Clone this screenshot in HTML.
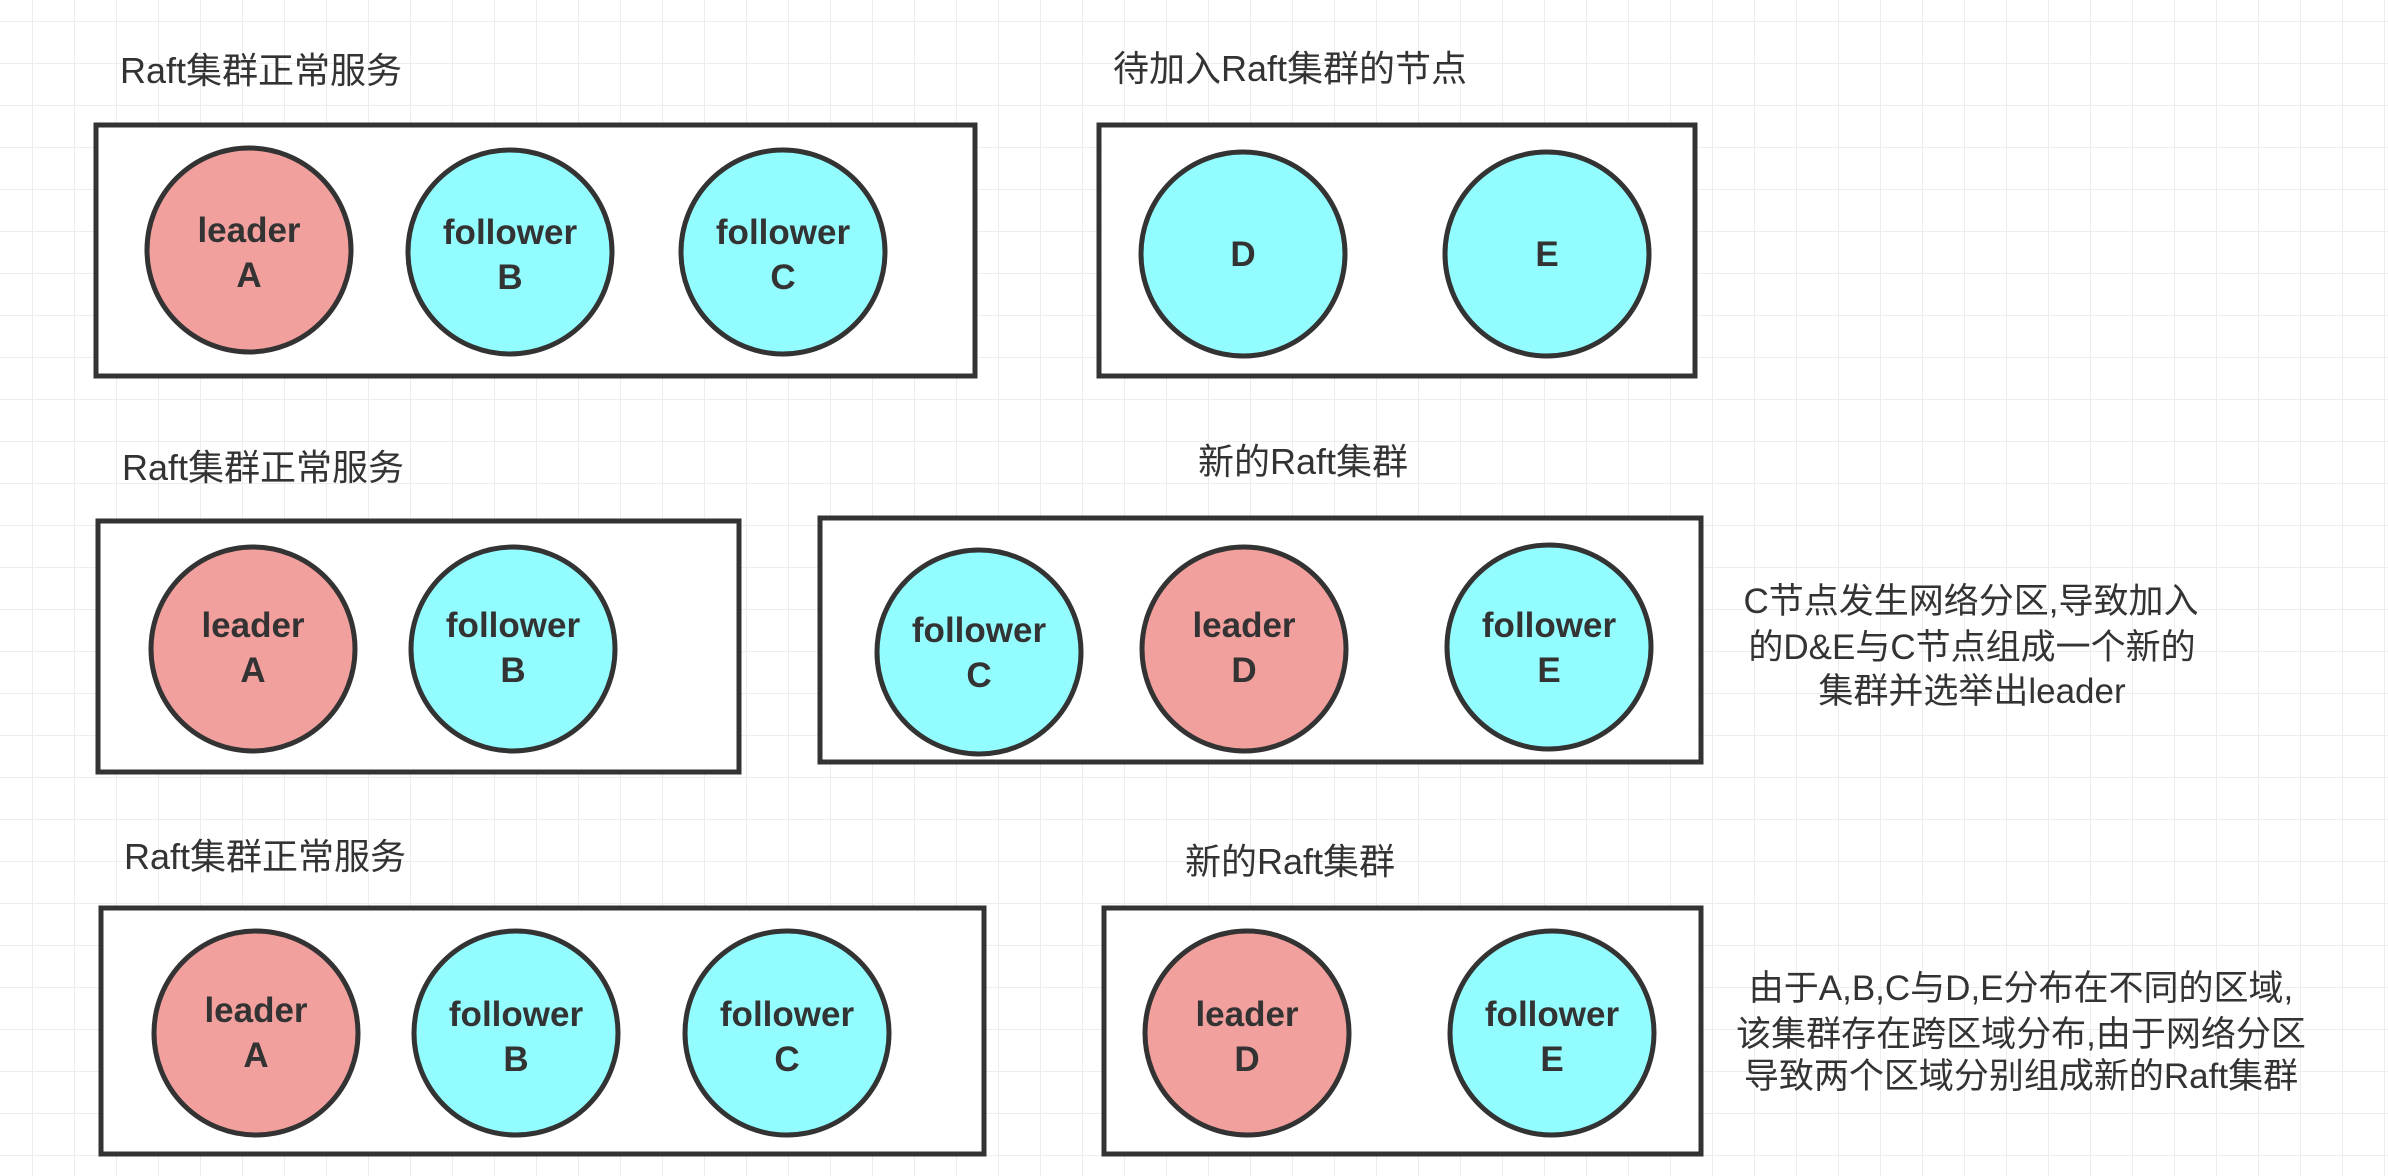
<!DOCTYPE html>
<html><head><meta charset="utf-8"><style>
html,body{margin:0;padding:0;background:#fff}
svg{display:block}
.t{font-family:"Liberation Sans","Noto Sans CJK SC",sans-serif;fill:#333}
.n{font-family:"Liberation Sans",sans-serif;font-weight:bold;font-size:35px;fill:#333;text-anchor:middle}
</style></head><body>
<svg width="2388" height="1176" viewBox="0 0 2388 1176" xmlns="http://www.w3.org/2000/svg">
<defs>
<pattern id="g" x="32" y="21" width="42" height="42" patternUnits="userSpaceOnUse">
<path d="M0 0H42M0 0V42" stroke="#ededed" stroke-width="2" fill="none"/>
</pattern>
</defs>
<rect width="2388" height="1176" fill="url(#g)"/>
<g fill="#fff" stroke="#333" stroke-width="5">
<rect x="96" y="125" width="879" height="251"/>
<rect x="1099" y="125" width="596" height="251"/>
<rect x="98" y="521" width="641" height="251"/>
<rect x="820" y="518" width="881" height="244"/>
<rect x="101" y="908" width="883" height="246"/>
<rect x="1104" y="908" width="597" height="246"/>
</g>
<g stroke="#333" stroke-width="5">
<circle cx="249" cy="250" r="102" fill="#f1a09d"/>
<circle cx="510" cy="252" r="102" fill="#93fcfe"/>
<circle cx="783" cy="252" r="102" fill="#93fcfe"/>
<circle cx="1243" cy="254" r="102" fill="#93fcfe"/>
<circle cx="1547" cy="254" r="102" fill="#93fcfe"/>
<circle cx="253" cy="649" r="102" fill="#f1a09d"/>
<circle cx="513" cy="649" r="102" fill="#93fcfe"/>
<circle cx="979" cy="652" r="102" fill="#93fcfe"/>
<circle cx="1244" cy="649" r="102" fill="#f1a09d"/>
<circle cx="1549" cy="647" r="102" fill="#93fcfe"/>
<circle cx="256" cy="1033" r="102" fill="#f1a09d"/>
<circle cx="516" cy="1033" r="102" fill="#93fcfe"/>
<circle cx="787" cy="1033" r="102" fill="#93fcfe"/>
<circle cx="1247" cy="1033" r="102" fill="#f1a09d"/>
<circle cx="1552" cy="1033" r="102" fill="#93fcfe"/>
</g>
<g class="n">
<text x="249" y="242">leader</text><text x="249" y="287">A</text>
<text x="510" y="244">follower</text><text x="510" y="289">B</text>
<text x="783" y="244">follower</text><text x="783" y="289">C</text>
<text x="1243" y="266">D</text>
<text x="1547" y="266">E</text>
<text x="253" y="637">leader</text><text x="253" y="682">A</text>
<text x="513" y="637">follower</text><text x="513" y="682">B</text>
<text x="979" y="642">follower</text><text x="979" y="687">C</text>
<text x="1244" y="637">leader</text><text x="1244" y="682">D</text>
<text x="1549" y="637">follower</text><text x="1549" y="682">E</text>
<text x="256" y="1022">leader</text><text x="256" y="1067">A</text>
<text x="516" y="1026">follower</text><text x="516" y="1071">B</text>
<text x="787" y="1026">follower</text><text x="787" y="1071">C</text>
<text x="1247" y="1026">leader</text><text x="1247" y="1071">D</text>
<text x="1552" y="1026">follower</text><text x="1552" y="1071">E</text>
</g>
<g class="t" font-size="36">
<text x="120" y="83">Raft集群正常服务</text>
<text x="1113" y="81">待加入Raft集群的节点</text>
<text x="122" y="480">Raft集群正常服务</text>
<text x="1198" y="474">新的Raft集群</text>
<text x="124" y="869">Raft集群正常服务</text>
<text x="1185" y="874">新的Raft集群</text>
</g>
<g class="t" font-size="35" text-anchor="middle">
<text x="1971" y="613">C节点发生网络分区,导致加入</text>
<text x="1972" y="659">的D&amp;E与C节点组成一个新的</text>
<text x="1972" y="703">集群并选举出leader</text>
<text x="2021" y="1000">由于A,B,C与D,E分布在不同的区域,</text>
<text x="2021" y="1046">该集群存在跨区域分布,由于网络分区</text>
<text x="2021" y="1088">导致两个区域分别组成新的Raft集群</text>
</g>
</svg>
</body></html>
